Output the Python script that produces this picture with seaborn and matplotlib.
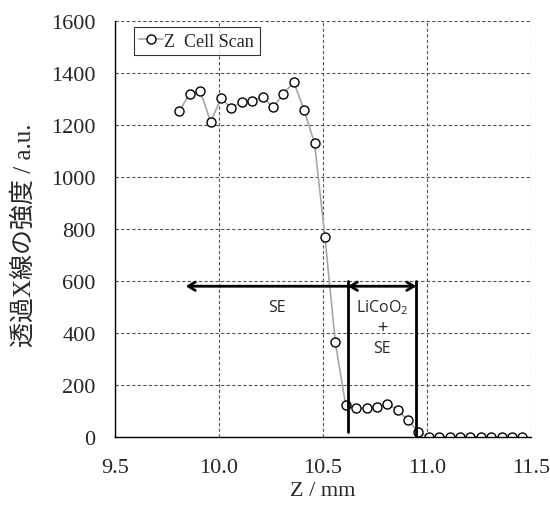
import matplotlib
matplotlib.use("Agg")
import matplotlib.pyplot as plt
import seaborn as sns
import pandas as pd

z_mm = [9.81, 9.86, 9.91, 9.96, 10.01, 10.06, 10.11, 10.16, 10.21, 10.26,
        10.31, 10.36, 10.41, 10.46, 10.51, 10.56, 10.61, 10.66, 10.71, 10.76,
        10.81, 10.86, 10.91, 10.96, 11.01, 11.06, 11.11, 11.16, 11.21, 11.26,
        11.31, 11.36, 11.41, 11.46]
intensity = [1255, 1320, 1332, 1212, 1302, 1265, 1290, 1292, 1308, 1268,
             1318, 1366, 1256, 1130, 770, 365, 122, 112, 110, 115,
             128, 104, 65, 18, 0, 0, 0, 0, 0, 0,
             0, 0, 0, 0]
series_name = "Z  Cell Scan"
x_ticks = [9.5, 10.0, 10.5, 11.0, 11.5]
y_ticks = [0, 200, 400, 600, 800, 1000, 1200, 1400, 1600]
boundary_se = 10.62
boundary_lco = 10.95
arrow_left_end = 9.84
arrow_y = 580
line_top = 600

df = pd.DataFrame({"z": z_mm, "I": intensity, "series": series_name})

sns.set_style("white")
serif = ["Liberation Serif", "Noto Sans CJK JP"]
plt.rcParams["font.family"] = serif
plt.rcParams["mathtext.default"] = "regular"

fig = plt.figure(figsize=(5.5, 5.1), dpi=100)
ax = fig.add_axes([0.209, 0.141, 0.756, 0.816])

sns.lineplot(data=df, x="z", y="I", hue="series", palette=["#a6a6a6"],
             marker="o", markersize=6.5, markerfacecolor="white",
             markeredgecolor="black", markeredgewidth=1.0, linewidth=1.2,
             ax=ax)

ax.set_xlim(9.5, 11.5)
ax.set_ylim(0, 1600)
ax.set_xticks(x_ticks)
ax.set_xticklabels([f"{v:.1f}" for v in x_ticks])
ax.set_yticks(y_ticks)
ax.tick_params(length=0, labelsize=16)
ax.tick_params(axis="x", pad=15)
ax.tick_params(axis="y", pad=14)
ax.grid(True, linestyle=(0, (3, 2)), color="#555555", linewidth=0.8)
for s in ["top", "right"]:
    ax.spines[s].set_visible(False)
for s in ["left", "bottom"]:
    ax.spines[s].set_color("black")
    ax.spines[s].set_linewidth(1.0)

ax.set_xlabel("Z / mm", fontsize=16, labelpad=3)
ax.set_ylabel("透過X線の強度 / a.u.", fontsize=18, labelpad=4)
ax.yaxis.set_label_coords(-0.19, 0.488)

# annotations
ax.plot([boundary_se, boundary_se], [20, line_top], color="black", lw=2)
ax.plot([boundary_lco, boundary_lco], [0, line_top], color="black", lw=2)
ax.annotate("", xy=(arrow_left_end, arrow_y), xytext=(boundary_se, arrow_y),
            arrowprops=dict(arrowstyle="->,head_length=0.5,head_width=0.3",
                            lw=2, color="black", shrinkA=0, shrinkB=0))
ax.annotate("", xy=(boundary_lco, arrow_y), xytext=(boundary_se, arrow_y),
            arrowprops=dict(arrowstyle="<->,head_length=0.5,head_width=0.3",
                            lw=2, color="black", shrinkA=0, shrinkB=0))
sans = ["Open Sans", "DejaVu Sans"]
fs = 11.5
ax.text(10.28, 500, "SE", family=sans, fontsize=fs, ha="center", va="center")
ax.text(10.785, 500, "LiCoO$_2$", family=sans, fontsize=fs, ha="center", va="center")
ax.text(10.785, 423, "+", family=sans, fontsize=fs + 1.5, ha="center", va="center")
ax.text(10.785, 342, "SE", family=sans, fontsize=fs, ha="center", va="center")

leg = ax.legend(loc="upper left", bbox_to_anchor=(0.045, 0.985), frameon=True,
                fancybox=False, edgecolor="black", fontsize=13,
                handlelength=1.3, handletextpad=0.1, borderpad=0.3,
                borderaxespad=0)
leg.get_frame().set_linewidth(0.8)

fig.savefig("out.png", dpi=100)
